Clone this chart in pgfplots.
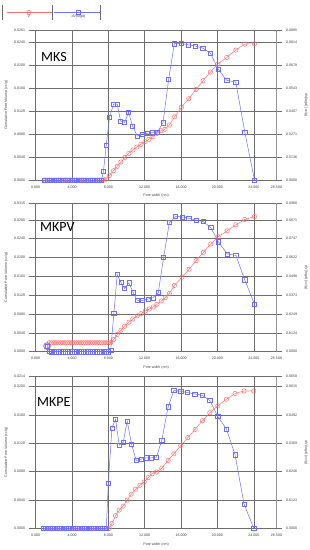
\documentclass[border=0pt]{standalone}
\usepackage{fontspec}
\setmainfont{Liberation Sans}
\newfontfamily\titlefont{Carlito}
\usepackage{pgfplots}
\usepackage{pgfplotstable}
\pgfplotsset{compat=1.18}

\definecolor{vred}{RGB}{255,110,110}
\definecolor{vblue}{RGB}{110,110,255}
\definecolor{gridc}{RGB}{110,110,110}
\definecolor{spine}{RGB}{150,150,150}
\newcommand{\tl}{\fontsize{3.6}{4.2}\selectfont}
\tikzset{ptitle/.style={font=\titlefont\fontsize{14}{14}\selectfont, anchor=west, inner sep=0pt}}

% ---------- Panel 1 (MKS) ----------
\pgfplotstableread{
x y
1.00 0
1.25 0
1.50 0
1.75 0
2.00 0
2.25 0
2.50 0
2.75 0
3.00 0
3.25 0
3.50 0
3.75 0
4.00 0
4.25 0
4.50 0
4.75 0
5.00 0
5.25 0
5.50 0
5.75 0
6.00 0
6.25 0
6.50 0
6.75 0
7.00 0
7.25 0
7.50 0
7.76 0.00017
8.12 0.00081
8.57 0.00162
8.97 0.00238
9.38 0.00313
9.82 0.00394
10.26 0.00464
10.70 0.00522
11.14 0.00574
11.58 0.00620
12.02 0.00667
12.46 0.00707
12.90 0.00754
13.35 0.00812
13.79 0.00858
14.23 0.00881
14.71 0.00957
15.29 0.01101
16.03 0.01264
16.84 0.01414
17.65 0.01577
18.42 0.01728
19.23 0.01878
20.04 0.02017
21.03 0.02133
22.02 0.02261
23.01 0.02365
24.08 0.02371
}\VA
\pgfplotstableread{
x y
1.00 0
1.25 0
1.50 0
1.75 0
2.00 0
2.25 0
2.50 0
2.75 0
3.00 0
3.25 0
3.50 0
3.75 0
4.00 0
4.25 0
4.50 0
4.75 0
5.00 0
5.25 0
5.50 0
5.75 0
6.00 0
6.25 0
6.50 0
6.75 0
7.00 0
7.25 0
7.46 0.00531
7.76 0.02045
8.12 0.03697
8.57 0.04483
8.97 0.04483
9.34 0.03480
9.78 0.03402
10.22 0.03991
10.66 0.03185
11.18 0.02595
11.69 0.02713
12.28 0.02753
12.87 0.02792
13.38 0.02812
14.01 0.03382
14.63 0.05938
15.26 0.08042
16.03 0.08062
16.76 0.07983
17.57 0.07905
18.38 0.07787
19.23 0.07492
20.07 0.06548
21.03 0.05880
22.02 0.05781
23.01 0.02831
24.08 0
}\DA
% ---------- Panel 2 (MKPV) ----------
\pgfplotstableread{
x y
1.25 0.0012
1.50 0.0019
1.75 0.0019
2.00 0.0019
2.25 0.0019
2.50 0.0019
2.75 0.0019
3.00 0.0019
3.25 0.0019
3.50 0.0019
3.75 0.0019
4.00 0.0019
4.25 0.0019
4.50 0.0019
4.75 0.0019
5.00 0.0019
5.25 0.0019
5.50 0.0019
5.75 0.0019
6.00 0.0019
6.25 0.0019
6.50 0.0019
6.75 0.0019
7.00 0.0019
7.25 0.0019
7.50 0.0019
7.75 0.0019
8.00 0.0019
8.25 0.0019
8.60 0.0026
8.97 0.00366
9.38 0.00457
9.78 0.00541
10.26 0.00626
10.70 0.00696
11.18 0.00759
11.58 0.00808
12.06 0.00865
12.50 0.00907
12.94 0.00949
13.35 0.01005
13.82 0.01076
14.26 0.01146
14.71 0.01237
15.26 0.01406
16.10 0.01582
16.88 0.01750
17.65 0.01933
18.46 0.02109
19.26 0.02285
20.07 0.02439
21.07 0.02566
22.02 0.02692
23.01 0.02805
24.08 0.02868
}\VB
\pgfplotstableread{
x y
1.25 0.0037
1.50 0.0004
1.75 0
2.00 0
2.25 0
2.50 0
2.75 0
3.00 0
3.25 0
3.50 0
3.75 0
4.00 0
4.25 0
4.50 0
4.75 0
5.00 0
5.25 0
5.50 0
5.75 0
6.00 0
6.25 0
6.50 0
6.75 0
7.00 0
7.25 0
7.50 0
7.75 0
8.00 0
8.25 0.0009
8.60 0.02515
8.97 0.05096
9.38 0.04571
9.78 0.04177
10.26 0.04549
10.70 0.03937
11.18 0.03390
11.76 0.03390
12.35 0.03477
12.90 0.03565
13.49 0.03915
14.08 0.06233
14.71 0.08529
15.40 0.08945
16.10 0.08901
16.84 0.08814
17.65 0.08683
18.42 0.08595
19.26 0.08201
20.11 0.07261
21.07 0.06452
22.02 0.06364
23.01 0.04746
24.08 0.03127
}\DB
% ---------- Panel 3 (MKPE) ----------
\pgfplotstableread{
x y
0.85 0
1.10 0
1.35 0
1.60 0
1.85 0
2.10 0
2.35 0
2.60 0
2.85 0
3.10 0
3.35 0
3.60 0
3.85 0
4.10 0
4.35 0
4.60 0
4.85 0
5.10 0
5.35 0
5.60 0
5.85 0
6.10 0
6.35 0
6.60 0
6.85 0
7.10 0
7.35 0
7.60 0
7.85 0
8.10 0
8.39 0.0007
8.79 0.00178
9.19 0.00257
9.63 0.00313
10.07 0.00397
10.51 0.00481
10.99 0.00551
11.47 0.00607
11.94 0.00654
12.38 0.00715
12.82 0.00771
13.30 0.00794
13.88 0.00850
14.58 0.00958
15.20 0.01051
15.97 0.01168
16.74 0.01280
17.55 0.01397
18.35 0.01519
19.16 0.01631
20.04 0.01729
20.99 0.01822
21.94 0.01902
22.93 0.01939
24.00 0.01939
}\VC
\pgfplotstableread{
x y
0.85 0
1.10 0
1.35 0
1.60 0
1.85 0
2.10 0
2.35 0
2.60 0
2.85 0
3.10 0
3.35 0
3.60 0
3.85 0
4.10 0
4.35 0
4.60 0
4.85 0
5.10 0
5.35 0
5.60 0
5.85 0
6.10 0
6.35 0
6.60 0
6.85 0
7.10 0
7.35 0
7.60 0
7.77 0
7.99 0.0194
8.39 0.04354
8.79 0.04742
9.19 0.03607
9.63 0.03736
10.07 0.04656
10.55 0.03650
11.06 0.02946
11.61 0.03003
12.20 0.03061
12.75 0.03061
13.30 0.03090
13.88 0.03837
14.58 0.05274
15.20 0.05978
15.97 0.05949
16.70 0.05892
17.51 0.05834
18.32 0.05777
19.16 0.05547
20.04 0.04857
20.99 0.04311
21.94 0.03190
22.93 0.01049
24.00 0
}\DC

\pgfplotsset{
  common/.style={scale only axis, width=240.8pt, xmin=0, xmax=26.5, ymin=0,
    clip=false, anchor=south west, scaled ticks=false},
  leftax/.style={common,
    axis x line*=bottom, axis y line*=left,
    axis line style={gridc, line width=0.5pt},
    grid=major, grid style={gridc, line width=0.5pt},
    tick align=outside, major tick length=7pt,
    tick style={gridc, line width=0.5pt},
    xtick={0,4,8,12,16,20,24,26.5},
    xticklabels={0.000,4.000,8.000,12.000,16.000,20.000,24.000,26.500},
    xtick style={draw=none},
    ticklabel style={font=\tl, text=black!75},
    xticklabel style={yshift=5pt},
    xlabel={Pore width (nm)},
    ylabel={Cumulative Pore Volume (cc/g)},
    every axis x label/.style={at={(axis description cs:0.5,-0.107)}, anchor=center, font=\tl, text=black!75},
    every axis y label/.style={at={(axis description cs:-0.123,0.5)}, anchor=center, rotate=90, font=\tl, text=black!75},
  },
  rightax/.style={common,
    axis x line=none, axis y line*=right,
    y axis line style={spine, line width=1.8pt},
    tick align=outside, major tick length=6pt,
    ytick style={gridc, line width=0.5pt},
    yticklabel style={font=\tl, text=black!75},
    ylabel={dV(logd) (cc/g)},
    every axis y label/.style={at={(axis description cs:1.1225,0.5)}, anchor=center, rotate=-90, font=\tl, text=black!75},
  },
  redline/.style={vred, line width=0.5pt, mark=o, mark size=2.2pt, mark options={solid, line width=0.5pt}},
  blueline/.style={vblue, line width=0.5pt, mark=square, mark size=2.1pt, mark options={solid, line width=0.5pt}},
}

\begin{document}
\begin{tikzpicture}
\useasboundingbox (0,0) rectangle (310pt,-550pt);

% ===== Panel 1 =====
\begin{axis}[leftax, at={(35.7pt,-180pt)}, height=150pt, ymax=0.0261,
  ytick={0,0.004,0.008,0.012,0.016,0.020,0.024,0.0261},
  yticklabels={0.0000,0.0040,0.0080,0.0120,0.0160,0.0200,0.0240,0.0261},
  legend columns=2,
  legend style={at={(axis description cs:-0.1412,1.1667)}, anchor=north west,
    draw=none, fill=none, inner sep=0pt, outer sep=0pt, column sep=0pt,
    nodes={inner sep=0pt, outer sep=0pt}},
  ]
  \addplot[redline, forget plot] table {\VA};
  \node[ptitle] at (rel axis cs:0.022,0.82) {MKS};
  \addlegendimage{legend image code/.code={
    \path[draw=none,fill=none] (0pt,-7.5pt) rectangle (50pt,7.5pt);
    \draw[gridc,line width=0.5pt] (0pt,-7.5pt)--(0pt,7.5pt) (50pt,-7.5pt)--(50pt,7.5pt);
    \draw[vred,line width=0.5pt] (5pt,0.3pt)--(50pt,0.3pt);
    \draw[vred,line width=0.5pt] plot[mark=o,mark size=2.2pt] coordinates {(27pt,0.3pt)};
    \node[font=\tl,text=black!75,inner sep=0pt,draw=none] at (27pt,-4.2pt) {V};
  }}
  \addlegendentry{}
  \addlegendimage{legend image code/.code={
    \path[draw=none,fill=none] (0pt,-7.5pt) rectangle (46.6pt,7.5pt);
    \draw[gridc,line width=0.5pt] (46.6pt,-7.5pt)--(46.6pt,7.5pt);
    \draw[vblue,line width=0.5pt] (1.3pt,0.3pt)--(48.3pt,0.3pt);
    \draw[vblue,line width=0.5pt] plot[mark=square,mark size=2.1pt] coordinates {(25.3pt,0.3pt)};
    \node[font=\tl,text=black!75,inner sep=0pt,draw=none] at (25.3pt,-4.2pt) {dV(logd)};
  }}
  \addlegendentry{}
\end{axis}
\begin{axis}[rightax, at={(35.7pt,-180pt)}, height=150pt, ymax=0.088523,
  ytick={0,0.013567,0.027133,0.0407,0.054267,0.067833,0.0814,0.088523},
  yticklabels={0.0000,0.0136,0.0271,0.0407,0.0543,0.0678,0.0814,0.0885}]
  \addplot[blueline] table {\DA};
\end{axis}

% ===== Panel 2 =====
\begin{axis}[leftax, at={(35.7pt,-351.7pt)}, height=148.4pt, ymax=0.0315,
  ytick={0,0.004,0.008,0.012,0.016,0.020,0.024,0.028,0.0315},
  yticklabels={0.0000,0.0040,0.0080,0.0120,0.0160,0.0200,0.0240,0.0280,0.0315}]
  \addplot[redline] table {\VB};
  \addplot[vblue!65!vred, only marks, mark=o, mark size=3.4pt, line width=0.8pt] coordinates {(1.25,0.0012)};
  \node[ptitle] at (rel axis cs:0.018,0.84) {MKPV};
\end{axis}
\begin{axis}[rightax, at={(35.7pt,-351.7pt)}, height=148.4pt, ymax=0.097988,
  ytick={0,0.012443,0.024886,0.037329,0.049771,0.062214,0.074657,0.0871,0.097988},
  yticklabels={0.0000,0.0124,0.0249,0.0373,0.0498,0.0622,0.0747,0.0871,0.0980}]
  \addplot[blueline] table {\DB};
\end{axis}

% ===== Panel 3 =====
\begin{axis}[leftax, at={(35.7pt,-528.3pt)}, height=151.6pt, ymax=0.0214,
  ytick={0,0.004,0.008,0.012,0.016,0.020,0.0214},
  yticklabels={0.0000,0.0040,0.0080,0.0120,0.0160,0.0200,0.0214}]
  \addplot[redline] table {\VC};
  \node[ptitle] at (rel axis cs:0.005,0.835) {MKPE};
\end{axis}
\begin{axis}[rightax, at={(35.7pt,-528.3pt)}, height=151.6pt, ymax=0.065805,
  ytick={0,0.0123,0.0246,0.0369,0.0492,0.0615,0.065805},
  yticklabels={0.0000,0.0123,0.0246,0.0369,0.0492,0.0615,0.0658}]
  \addplot[blueline] table {\DC};
\end{axis}
\end{tikzpicture}
\end{document}
